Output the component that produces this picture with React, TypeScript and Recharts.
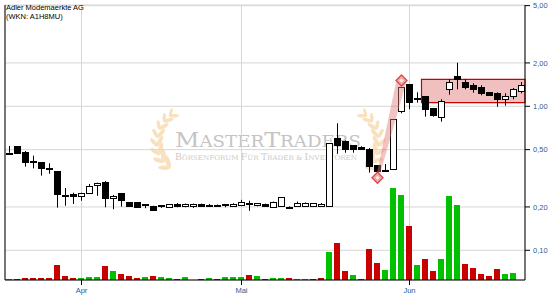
import React from 'react';
import {
  ComposedChart,
  Bar,
  Cell,
  XAxis,
  YAxis,
  CartesianGrid,
  ReferenceArea,
  ReferenceLine,
  ReferenceDot,
} from 'recharts';

// Daily OHLC prices (EUR), one entry per trading day, mid-March to mid-June
const opens = [
  0.476, 0.53, 0.482, 0.414, 0.409, 0.372, 0.355, 0.243, 0.246, 0.239,
  0.249, 0.283, 0.297, 0.23, 0.25, 0.216, 0.216, 0.209, 0.204, 0.205,
  0.201, 0.21, 0.203, 0.203, 0.211, 0.206, 0.205, 0.209, 0.203, 0.205,
  0.212, 0.205, 0.211, 0.201, 0.203, 0.201, 0.203, 0.203, 0.203, 0.203,
  0.203, 0.6, 0.574, 0.536, 0.522, 0.503, 0.389, 0.362, 0.365, 0.932,
  1.428, 1.15, 1.179, 0.969, 0.839, 1.312, 1.623, 1.475, 1.413, 1.368,
  1.257, 1.231, 1.118, 1.179, 1.283,
];
const highs = [
  0.53, 0.53, 0.489, 0.454, 0.409, 0.402, 0.355, 0.271, 0.251, 0.251,
  0.289, 0.295, 0.302, 0.242, 0.25, 0.216, 0.216, 0.209, 0.204, 0.205,
  0.208, 0.213, 0.211, 0.211, 0.211, 0.21, 0.208, 0.209, 0.212, 0.224,
  0.221, 0.213, 0.211, 0.218, 0.233, 0.202, 0.218, 0.215, 0.213, 0.213,
  0.553, 0.762, 0.58, 0.536, 0.528, 0.513, 0.389, 0.398, 0.812, 1.36,
  1.428, 1.251, 1.179, 0.969, 1.118, 1.54, 2.008, 1.54, 1.445, 1.399,
  1.257, 1.25, 1.231, 1.34, 1.475,
];
const lows = [
  0.476, 0.472, 0.381, 0.371, 0.33, 0.34, 0.198, 0.204, 0.21, 0.221,
  0.249, 0.239, 0.199, 0.193, 0.201, 0.202, 0.2, 0.196, 0.188, 0.197,
  0.198, 0.199, 0.199, 0.197, 0.203, 0.2, 0.201, 0.199, 0.201, 0.203,
  0.188, 0.202, 0.202, 0.201, 0.201, 0.197, 0.2, 0.201, 0.2, 0.201,
  0.203, 0.467, 0.476, 0.476, 0.5, 0.346, 0.33, 0.35, 0.365, 0.894,
  0.953, 1.059, 0.847, 0.847, 0.782, 1.204, 1.312, 1.312, 1.243, 1.192,
  1.204, 0.994, 1.01, 1.118, 1.231,
];
const closes = [
  0.477, 0.472, 0.412, 0.41, 0.371, 0.369, 0.246, 0.241, 0.237, 0.249,
  0.281, 0.295, 0.23, 0.238, 0.225, 0.202, 0.2, 0.208, 0.19, 0.204,
  0.208, 0.203, 0.211, 0.211, 0.203, 0.205, 0.204, 0.205, 0.21, 0.217,
  0.211, 0.213, 0.203, 0.218, 0.233, 0.2, 0.212, 0.214, 0.212, 0.211,
  0.553, 0.539, 0.506, 0.508, 0.503, 0.385, 0.357, 0.36, 0.812, 1.355,
  1.076, 1.147, 0.953, 0.87, 1.094, 1.475, 1.54, 1.355, 1.325, 1.243,
  1.204, 1.124, 1.173, 1.312, 1.399,
];
// Daily turnover in thousand shares
const volumes = [
  1, 1, 2, 2, 2, 2, 15, 4, 2, 2,
  3, 3, 14, 9, 6, 4, 2, 3, 4, 3,
  2, 1, 3, 0, 1, 2, 1, 3, 3, 3,
  5, 4, 1, 2, 2, 2, 1, 1, 1, 2,
  28, 37, 9, 5, 1, 31, 17, 10, 92, 85,
  54, 15, 21, 9, 21, 84, 75, 16, 12, 6,
  4, 11, 6, 7, 0,
];

const monthTicks = [9, 29, 50];
const monthLabels = ['Apr', 'Mai', 'Jun'];
const priceTicks = [0.1, 0.2, 0.5, 1, 2, 5];

// Trading range box and the swing low/high signals
const rangeBox = { fromDay: 51.5, low: 1.06, high: 1.54 };
const signalLow = { day: 46, price: 0.319 };
const signalHigh = { day: 49, price: 1.51 };

const data = opens.map((open, i) => ({
  day: i,
  open,
  high: highs[i],
  low: lows[i],
  close: closes[i],
  range: [lows[i], highs[i]],
  volume: volumes[i],
  volUp: i === 0 ? closes[i] >= open : closes[i] >= closes[i - 1],
}));

const X_DOMAIN: [number, number] = [-0.5625, 64.4375];
const FONT = '"Liberation Sans", Arial, sans-serif';
const LABEL_COLOR = '#2d5b98';

const Candle = (props: any) => {
  const { x, y, width, height, payload } = props;
  if (!payload || x == null) return null;
  const { open, close, high, low } = payload;
  const lh = Math.log(high);
  const ll = Math.log(low);
  const toY = (v: number) =>
    lh === ll ? y : y + ((lh - Math.log(v)) / (lh - ll)) * height;
  const cx = Math.floor(x + width / 2) + 0.5;
  const bx = Math.round(x);
  const bw = Math.round(width);
  const up = close >= open;
  let yt = Math.round(toY(Math.max(open, close)));
  let yb = Math.round(toY(Math.min(open, close)));
  if (yb - yt < 1) yb = yt + 1;
  return (
    <g>
      <line x1={cx} x2={cx} y1={toY(high)} y2={toY(low)} stroke="#000" strokeWidth={1} />
      {up ? (
        <rect x={bx + 0.5} y={yt + 0.5} width={bw - 1} height={yb - yt} fill="#fff" stroke="#000" strokeWidth={1} />
      ) : (
        <rect x={bx} y={yt} width={bw} height={yb - yt + 1} fill="#000" />
      )}
    </g>
  );
};

const Diamond = (props: any) => {
  const { cx, cy } = props;
  if (cx == null || cy == null) return null;
  const r = 5.5;
  const r2 = 2.8;
  return (
    <g>
      <path
        d={`M${cx},${cy - r} L${cx + r},${cy} L${cx},${cy + r} L${cx - r},${cy} Z`}
        fill="#f3b4b4"
        stroke="#d9484a"
        strokeWidth={1.3}
      />
      <path
        d={`M${cx},${cy - r2} L${cx + r2},${cy} L${cx},${cy + r2} L${cx - r2},${cy} Z`}
        fill="#fbe6e6"
        stroke="#e88888"
        strokeWidth={0.8}
      />
    </g>
  );
};

// Tapered band joining the swing low to the swing high
const Wedge = (props: any) => {
  const { x1, y1, x2, y2 } = props;
  if ([x1, y1, x2, y2].some((v) => v == null || Number.isNaN(v))) return null;
  const dx = x2 - x1;
  const dy = y2 - y1;
  const len = Math.hypot(dx, dy) || 1;
  const nx = -dy / len;
  const ny = dx / len;
  const w0 = 1.5;
  const w1 = 5;
  const pts = [
    [x1 + nx * w0, y1 + ny * w0],
    [x2 + nx * w1, y2 + ny * w1],
    [x2 - nx * w1, y2 - ny * w1],
    [x1 - nx * w0, y1 - ny * w0],
  ]
    .map((p) => p.join(','))
    .join(' ');
  return <polygon points={pts} fill="#e07d7d" fillOpacity={0.45} />;
};

// Laurel branch made of leaves along an arc
const Laurel = ({ mirrorAt }: { mirrorAt?: number }) => {
  const cxArc = 190;
  const cyArc = 142;
  const r = 33;
  const leaves: React.ReactNode[] = [];
  const angles = [128, 143, 158, 173, 188, 203, 218, 232];
  angles.forEach((deg, i) => {
    const a = (deg * Math.PI) / 180;
    const px = cxArc + r * Math.cos(a);
    const py = cyArc + r * Math.sin(a);
    const tang = deg + 90;
    const size = 7 - i * 0.3;
    const ao = ((tang + 35) * Math.PI) / 180;
    const ox = px + Math.cos(ao) * size * 0.9;
    const oy = py + Math.sin(ao) * size * 0.9;
    leaves.push(
      <ellipse key={`o${i}`} cx={ox} cy={oy} rx={size} ry={size * 0.36} transform={`rotate(${tang + 35} ${ox} ${oy})`} />
    );
    const ai = ((tang - 35) * Math.PI) / 180;
    const ix = px + Math.cos(ai) * size * 0.8;
    const iy = py + Math.sin(ai) * size * 0.8;
    leaves.push(
      <ellipse key={`i${i}`} cx={ix} cy={iy} rx={size * 0.85} ry={size * 0.32} transform={`rotate(${tang - 35} ${ix} ${iy})`} />
    );
  });
  const tf = mirrorAt != null ? `translate(${2 * mirrorAt},0) scale(-1,1)` : undefined;
  return (
    <g transform={tf} fill="#f8dcb2" opacity={0.85}>
      {leaves}
    </g>
  );
};

const Watermark = () => (
  <svg width={555} height={300} style={{ position: 'absolute', left: 0, top: 0 }}>
    <Laurel />
    <Laurel mirrorAt={268} />
    <text
      x={175}
      y={146.5}
      fill="#c4c4c4"
      fontFamily='"DejaVu Serif", "Liberation Serif", serif'
      textLength={186}
      lengthAdjust="spacingAndGlyphs"
    >
      <tspan fontSize={21}>M</tspan>
      <tspan fontSize={16}>ASTER</tspan>
      <tspan fontSize={21}>T</tspan>
      <tspan fontSize={16}>RADERS</tspan>
    </text>
    <text
      x={175}
      y={160}
      fill="#cbcbcb"
      fontFamily='"DejaVu Serif", "Liberation Serif", serif'
      textLength={182}
      lengthAdjust="spacingAndGlyphs"
    >
      <tspan fontSize={8.5}>B</tspan>
      <tspan fontSize={6.5}>ÖRSENFORUM </tspan>
      <tspan fontSize={8.5}>F</tspan>
      <tspan fontSize={6.5}>ÜR </tspan>
      <tspan fontSize={8.5}>T</tspan>
      <tspan fontSize={6.5}>RADER &amp; </tspan>
      <tspan fontSize={8.5}>I</tspan>
      <tspan fontSize={6.5}>NVESTOREN</tspan>
    </text>
  </svg>
);

const Title = () => (
  <svg width={555} height={300} style={{ position: 'absolute', left: 0, top: 0, pointerEvents: 'none' }}>
    <text x={6} y={10} fontSize={7.5} fontFamily={FONT} fill="#000">
      Adler Modemaerkte AG
    </text>
    <text x={6} y={18.5} fontSize={7.5} fontFamily={FONT} fill="#000">
      (WKN: A1H8MU)
    </text>
  </svg>
);

const fmtPrice = (v: number) => v.toFixed(2).replace('.', ',');
const fmtMonth = (v: number) => monthLabels[monthTicks.indexOf(v)] ?? '';

export default function App() {
  return (
    <div style={{ position: 'fixed', left: 0, top: 0, width: 555, height: 300, background: '#fff' }}>
      <Watermark />
      <div style={{ position: 'absolute', left: 0, top: 0 }}>
        <ComposedChart
          width={555}
          height={300}
          data={data}
          margin={{ top: 5, right: 0, bottom: 0, left: 5 }}
        >
          <CartesianGrid xAxisId="p" yAxisId="p" stroke="#d6d6d6" strokeWidth={1} />
          <XAxis
            xAxisId="p"
            dataKey="day"
            type="number"
            domain={X_DOMAIN}
            allowDataOverflow
            ticks={monthTicks}
            interval={0}
            tickFormatter={fmtMonth}
            height={20}
            tickSize={5}
            tickMargin={3}
            axisLine={{ stroke: '#000' }}
            tickLine={{ stroke: '#000' }}
            tick={{ fontSize: 7.5, fontFamily: FONT, fill: LABEL_COLOR }}
          />
          <XAxis xAxisId="v" dataKey="day" type="number" domain={[-0.5, 64.5]} allowDataOverflow hide />
          <YAxis
            yAxisId="p"
            orientation="right"
            scale="log"
            type="number"
            domain={[0.0622, 5.05]}
            allowDataOverflow
            ticks={priceTicks}
            interval={0}
            tickFormatter={fmtPrice}
            width={30}
            tickSize={5}
            tickMargin={3}
            axisLine={{ stroke: '#000' }}
            tickLine={{ stroke: '#000' }}
            tick={{ fontSize: 7.5, fontFamily: FONT, fill: LABEL_COLOR }}
          />
          <YAxis yAxisId="v" hide domain={[0, 275]} allowDataOverflow />
          <ReferenceLine xAxisId="p" yAxisId="p" x={X_DOMAIN[0]} stroke="#000" ifOverflow="visible" />
          <ReferenceArea
            xAxisId="p"
            yAxisId="p"
            x1={rangeBox.fromDay}
            x2={X_DOMAIN[1]}
            y1={rangeBox.low}
            y2={rangeBox.high}
            fill="#f0c0c0"
            fillOpacity={1}
            stroke="#c80000"
            strokeWidth={1.2}
          />
          <Bar
            xAxisId="v"
            yAxisId="v"
            dataKey="volume"
            barSize={6}
            isAnimationActive={false}
          >
            {data.map((d) => (
              <Cell key={d.day} fill={d.volUp ? '#00c000' : '#c80000'} />
            ))}
          </Bar>
          <ReferenceLine
            xAxisId="p"
            yAxisId="p"
            segment={[
              { x: signalLow.day, y: signalLow.price },
              { x: signalHigh.day, y: signalHigh.price },
            ]}
            shape={<Wedge />}
          />
          <Bar
            xAxisId="p"
            yAxisId="p"
            dataKey="range"
            barSize={7}
            shape={<Candle />}
            isAnimationActive={false}
          />
          <ReferenceDot xAxisId="p" yAxisId="p" x={signalLow.day} y={signalLow.price} shape={<Diamond />} />
          <ReferenceDot xAxisId="p" yAxisId="p" x={signalHigh.day} y={signalHigh.price} shape={<Diamond />} />
        </ComposedChart>
      </div>
      <Title />
    </div>
  );
}
